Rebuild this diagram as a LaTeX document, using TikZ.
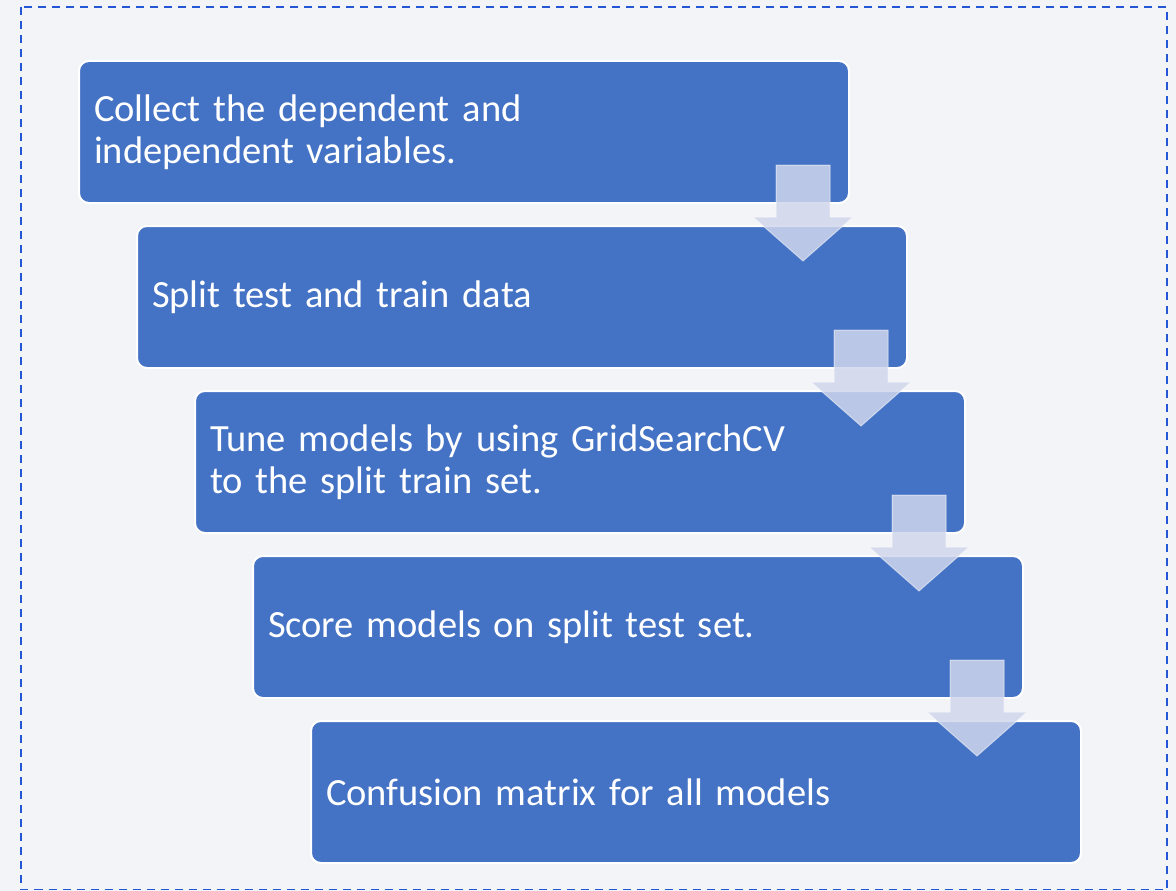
\documentclass[tikz,border=0pt]{standalone}
\usepackage{fontspec}
\setmainfont{Carlito}
\definecolor{boxblue}{HTML}{4472C4}
\definecolor{bgcol}{HTML}{F3F4F8}
\definecolor{dashblue}{HTML}{2457D6}
\definecolor{arrowcol}{HTML}{D0D6EC}
\tikzset{
  stepbox/.style={draw=white, line width=2pt, fill=boxblue, rounded corners=10pt,
    anchor=north west, text=white, align=left, text width=740pt, inner xsep=15pt,
    inner ysep=0pt, minimum height=142pt, font=\fontsize{38.5}{41.5}\selectfont},
  blockarrow/.style={fill=arrowcol, fill opacity=0.85, draw=white, draw opacity=0.5, line width=1pt}
}
\begin{document}
\begin{tikzpicture}[x=1pt,y=-1pt]
\useasboundingbox (0,0) rectangle (1176,891);
\fill[bgcol] (0,0) rectangle (1176,891);
\draw[dashblue, line width=1.6pt, dash pattern=on 8pt off 6pt] (21,7) rectangle (1167,889.5);
\node[stepbox] (b1) at (78,60) {Collect the dependent and\\independent variables.};
\node[stepbox] (b2) at (136,225) {Split test and train data};
\node[stepbox] (b3) at (194,390) {Tune models by using GridSearchCV\\to the split train set.};
\node[stepbox] (b4) at (252,555) {Score models on split test set.};
\node[stepbox] (b5) at (310,720) {Confusion matrix for all models};
\foreach \b in {b1,b2,b3,b4}{
  \begin{scope}[shift={([xshift=-47pt]\b.south east)}]
    \path[blockarrow] (-27,-39) -- (27,-39) -- (27,13) -- (50,13) -- (0,57) -- (-50,13) -- (-27,13) -- cycle;
  \end{scope}
}
\end{tikzpicture}
\end{document}
